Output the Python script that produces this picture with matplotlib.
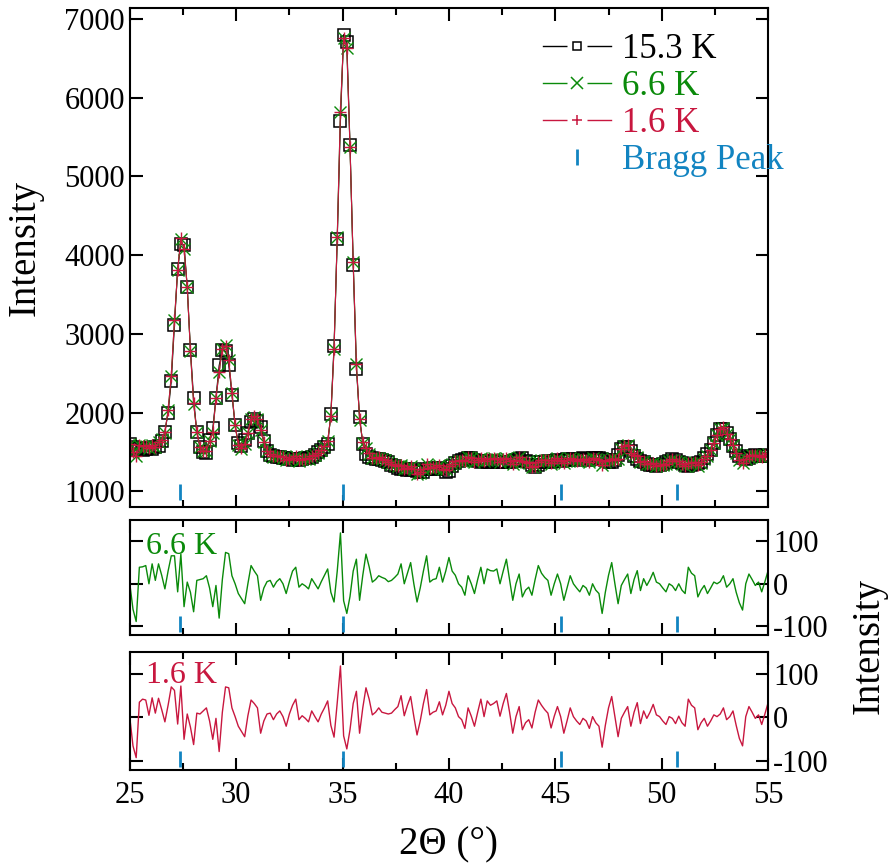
import matplotlib
matplotlib.use("Agg")
import matplotlib.pyplot as plt
from matplotlib.lines import Line2D
from matplotlib.legend_handler import HandlerTuple
import numpy as np

plt.rcParams['font.family'] = ['Liberation Serif', 'DejaVu Serif']
plt.rcParams['axes.unicode_minus'] = False

# 2theta grid, step 0.15 deg
two_theta = np.round(np.arange(25.0, 55.0001, 0.15), 2)

# 15.3 K intensity
int_153 = [1600, 1560, 1540, 1550, 1530, 1540, 1550, 1540, 1560, 1580,
           1640, 1760, 2000, 2400, 3110, 3830, 4140, 4130, 3590, 2800,
           2180, 1750, 1560, 1500, 1490, 1650, 1800, 2190, 2600, 2800,
           2780, 2600, 2230, 1840, 1610, 1580, 1650, 1740, 1880, 1920,
           1900, 1820, 1640, 1510, 1460, 1450, 1440, 1440, 1430, 1420,
           1410, 1400, 1410, 1400, 1410, 1420, 1430, 1440, 1460, 1500,
           1520, 1560, 1600, 1980, 2850, 4200, 5700, 6800, 6700, 5400,
           3880, 2560, 1950, 1600, 1480, 1440, 1420, 1410, 1410, 1400,
           1390, 1370, 1340, 1320, 1300, 1290, 1280, 1270, 1270, 1280,
           1260, 1250, 1250, 1280, 1290, 1300, 1290, 1300, 1280, 1250,
           1260, 1320, 1360, 1390, 1400, 1410, 1420, 1420, 1400, 1390,
           1380, 1390, 1370, 1380, 1390, 1380, 1370, 1380, 1370, 1380,
           1390, 1400, 1410, 1420, 1390, 1370, 1340, 1310, 1340, 1370,
           1380, 1390, 1380, 1390, 1400, 1390, 1400, 1410, 1400, 1410,
           1400, 1410, 1420, 1410, 1400, 1420, 1430, 1420, 1410, 1400,
           1380, 1370, 1400, 1460, 1540, 1570, 1570, 1510, 1450, 1410,
           1390, 1370, 1350, 1340, 1330, 1320, 1330, 1350, 1370, 1390,
           1410, 1400, 1380, 1360, 1340, 1320, 1330, 1350, 1360, 1380,
           1420, 1470, 1530, 1610, 1720, 1790, 1790, 1740, 1660, 1580,
           1510, 1450, 1420, 1410, 1420, 1450, 1460, 1450, 1450, 1460,
           1450]

# difference 6.6 K - 15.3 K
diff_66 = [0, -60, -89, 39, 40, 43, 0, 47, 8, 47,
           20, -12, 30, 66, 66, -19, 70, -54, 4, -20,
           -66, 8, 10, 12, 19, -10, -54, -4, -81, 10,
           74, 71, 19, 0, -23, -35, -47, 0, 43, 30,
           19, -39, -10, 5, 8, -8, 5, 12, 0, -23,
           5, 30, 39, -8, 0, -5, -12, 12, 0, -12,
           5, 20, 35, -20, -43, 30, 120, -40, -70, -30,
           30, 58, -39, 20, 70, 40, 4, 10, 19, 15,
           12, 5, 8, 15, 23, 47, 0, 25, 50, 0,
           -43, -10, 30, 66, 4, 10, 12, 39, 4, 30,
           62, 30, 20, 0, -8, -27, 19, 0, -23, 10,
           39, 0, 35, 31, 30, 35, 0, 30, 58, 10,
           -39, 0, 23, -31, -15, -8, -27, 10, 43, 25,
           15, 8, -27, 0, 23, 0, -39, -10, 19, 0,
           -10, -19, -4, -10, -27, 0, -15, -23, -70, -20,
           20, 50, 0, -47, -4, 10, 23, -23, 10, 31,
           -16, 12, -4, 10, 27, 4, 0, -10, -19, 0,
           -5, -16, 0, -15, -23, 39, 25, 19, -31, -15,
           -4, -23, -10, 4, 0, 5, 19, -8, 0, 12,
           -20, -45, -62, 0, 23, 10, -4, 4, -19, 5,
           31]

# difference 1.6 K - 15.3 K
diff_16 = [0, -65, -92, 35, 42, 40, 5, 45, 10, 44,
           18, -10, 28, 70, 62, -15, 72, -50, 8, -22,
           -62, 10, 8, 15, 22, -8, -50, -2, -78, 12,
           70, 68, 22, 2, -20, -32, -44, 4, 40, 32,
           22, -36, -8, 8, 10, -5, 8, 15, 2, -20,
           8, 28, 42, -5, 4, -2, -10, 15, 2, -10,
           8, 22, 38, -18, -45, 34, 118, -42, -72, -28,
           32, 60, -36, 22, 68, 42, 6, 12, 22, 12,
           10, 8, 10, 18, 25, 50, 4, 28, 48, 2,
           -40, -8, 32, 64, 6, 12, 15, 36, 6, 28,
           60, 32, 22, 2, -5, -25, 22, 3, -20, 12,
           42, 2, 38, 28, 32, 38, 3, 32, 55, 12,
           -36, 2, 25, -28, -12, -5, -24, 12, 40, 28,
           18, 10, -24, 3, 25, 2, -36, -8, 22, 2,
           -8, -16, -2, -8, -25, 2, -12, -20, -68, -18,
           22, 48, 2, -44, -2, 12, 25, -20, 12, 34,
           -14, 15, -2, 12, 30, 6, 2, -8, -16, 2,
           -2, -14, 3, -12, -20, 42, 28, 22, -28, -12,
           -2, -20, -8, 6, 2, 8, 22, -5, 2, 15,
           -18, -48, -65, 2, 25, 12, -2, 6, -16, 8,
           34]

bragg_pos = [27.35, 35.0, 45.25, 50.7]

int_153 = np.array(int_153)
int_66 = int_153 + np.array(diff_66)
int_16 = int_153 + np.array(diff_16)

c_blk = 'black'
c_grn = '#0a8a0a'
c_red = '#c8173f'
c_blu = '#1284c1'

fig = plt.figure(figsize=(8.89, 8.67), dpi=100)
ax1 = fig.add_axes([0.146, 0.415, 0.718, 0.576])
ax2 = fig.add_axes([0.146, 0.268, 0.718, 0.132])
ax3 = fig.add_axes([0.146, 0.112, 0.718, 0.136])

ax1.plot(two_theta, int_153, color=c_blk, lw=0.8, marker='s', ms=8.5,
         mfc='none', mec=c_blk, mew=1.1)
ax1.plot(two_theta, int_66, color=c_grn, lw=0.8, marker='x', ms=8,
         mew=1.0)
ax1.plot(two_theta, int_16, color=c_red, lw=0.8, marker='+', ms=9,
         mew=1.0)
ax1.plot(bragg_pos, [990] * len(bragg_pos), ls='none', marker='|', ms=12,
         mew=2, color=c_blu)

ax1.set_xlim(25, 55)
ax1.set_ylim(800, 7140)
ax1.set_yticks([1000, 2000, 3000, 4000, 5000, 6000, 7000])
ax1.set_ylabel('Intensity', fontsize=28)
ax1.yaxis.set_label_coords(-0.135, 0.52)
ax1.tick_params(labelbottom=False)

# legend handles: line - gap - marker - gap - line
handles = []
for c, m, ms in [(c_blk, 's', 6), (c_grn, 'x', 8), (c_red, '+', 7)]:
    ln = Line2D([], [], color=c, lw=1.0)
    gap = Line2D([], [], ls='none', marker='s', ms=15, mfc='white', mec='none')
    mk = Line2D([], [], ls='none', marker=m, ms=ms, mfc='none', mec=c, mew=1.1)
    handles.append((ln, gap, mk))
handles.append(Line2D([], [], ls='none', marker='|', ms=12, mew=2, color=c_blu))
labels = ['15.3 K', '6.6 K', '1.6 K', 'Bragg Peak']
leg = ax1.legend(handles, labels, loc='upper left', bbox_to_anchor=(0.648, 0.95),
                 frameon=False, fontsize=25, handlelength=1.95, numpoints=1,
                 borderaxespad=0, borderpad=0, handletextpad=0.3,
                 labelspacing=0.12,
                 handler_map={tuple: HandlerTuple(ndivide=1)})
for txt, c in zip(leg.get_texts(), [c_blk, c_grn, c_red, c_blu]):
    txt.set_color(c)

ax2.plot(two_theta, diff_66, color=c_grn, lw=1.0)
ax2.plot(bragg_pos, [-94] * len(bragg_pos), ls='none', marker='|', ms=11,
         mew=2, color=c_blu)
ax2.text(0.025, 0.9, '6.6 K', transform=ax2.transAxes, color=c_grn,
         fontsize=23, va='top', ha='left')

ax3.plot(two_theta, diff_16, color=c_red, lw=1.0)
ax3.plot(bragg_pos, [-95] * len(bragg_pos), ls='none', marker='|', ms=11,
         mew=2, color=c_blu)
ax3.text(0.025, 0.92, '1.6 K', transform=ax3.transAxes, color=c_red,
         fontsize=23, va='top', ha='left')

for ax in (ax2, ax3):
    ax.set_xlim(25, 55)
    ax.set_ylim(-120, 150)
    ax.set_yticks([-100, 0, 100])
    ax.yaxis.tick_right()
    ax.tick_params(axis='y', left=True, labelleft=False, right=True, labelright=True)
ax2.tick_params(labelbottom=False)
ax3.set_xlabel('2Θ (°)', fontsize=28, labelpad=12)
fig.text(0.998, 0.255, 'Intensity', rotation=90, fontsize=28, ha='right', va='center')

for ax in (ax1, ax2, ax3):
    ax.set_xticks([25, 30, 35, 40, 45, 50, 55])
    ax.set_xticks(np.arange(27.5, 55, 5), minor=True)
    ax.tick_params(which='both', direction='in', top=True, labelsize=22, width=1.5)
    ax.tick_params(which='major', length=9)
    ax.tick_params(which='minor', length=5)
    ax.tick_params(axis='y', which='both', left=True, right=True)
    for s in ax.spines.values():
        s.set_linewidth(1.5)
ax3.tick_params(axis='x', pad=8)

fig.savefig('out.png', dpi=100)
